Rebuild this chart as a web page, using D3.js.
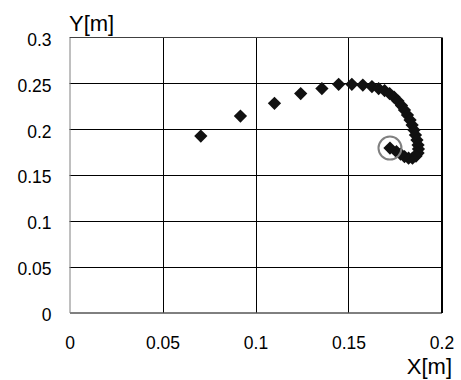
<!DOCTYPE html>
<html>
<head>
<meta charset="utf-8">
<script src="https://cdn.jsdelivr.net/npm/d3@7"></script>
<style>
  html, body { margin: 0; padding: 0; background: #fff; }
  svg { display: block; }
  text { font-family: "Liberation Sans", Arial, sans-serif; fill: #000; }
</style>
</head>
<body>
<svg id="chart" width="461" height="380"></svg>
<script>
// ---- data ----
const xValues = [0.0706, 0.0919, 0.1102, 0.1243, 0.1357, 0.1447, 0.1518, 0.1577, 0.1626,
  0.1662, 0.1694, 0.1721, 0.1745, 0.1766, 0.1785, 0.1801, 0.1817, 0.1831, 0.1842,
  0.1852, 0.1860, 0.1868, 0.1874, 0.1876, 0.1874, 0.1863, 0.1844, 0.1823, 0.1801,
  0.1780, 0.1758, 0.1723];
const yValues = [0.1925, 0.2143, 0.2282, 0.2389, 0.2443, 0.2489, 0.2489, 0.2481, 0.2465,
  0.2443, 0.2421, 0.2389, 0.2350, 0.2307, 0.2258, 0.2208, 0.2154, 0.2099, 0.2045,
  0.1990, 0.1936, 0.1881, 0.1827, 0.1783, 0.1739, 0.1706, 0.1684, 0.1684, 0.1701,
  0.1728, 0.1755, 0.1794];
const xTicks = [0, 0.05, 0.1, 0.15, 0.2];
const yTicks = [0, 0.05, 0.1, 0.15, 0.2, 0.25, 0.3];
const xTickLabels = ["0", "0.05", "0.1", "0.15", "0.2"];
const yTickLabels = ["0", "0.05", "0.1", "0.15", "0.2", "0.25", "0.3"];
const xTitle = "X[m]";
const yTitle = "Y[m]";
const highlightIndex = xValues.length - 1;

const points = xValues.map((x, i) => ({ x, y: yValues[i] }));

// ---- layout ----
const svg = d3.select("#chart");
const plot = { left: 69.5, right: 441.5, top: 37.5, bottom: 312.5 };

const x = d3.scaleLinear().domain([0, 0.2]).range([plot.left, plot.right]);
const y = d3.scaleLinear().domain([0, 0.3]).range([plot.bottom, plot.top]);

// gridlines
svg.append("g").selectAll("line.h")
  .data(yTicks.slice(1, -1))
  .join("line")
  .attr("x1", plot.left).attr("x2", plot.right)
  .attr("y1", d => Math.round(y(d)) + 0.5).attr("y2", d => Math.round(y(d)) + 0.5)
  .attr("stroke", "#000").attr("stroke-width", 1);

svg.append("g").selectAll("line.v")
  .data(xTicks.slice(1, -1))
  .join("line")
  .attr("x1", d => Math.round(x(d)) + 0.5).attr("x2", d => Math.round(x(d)) + 0.5)
  .attr("y1", plot.top).attr("y2", plot.bottom)
  .attr("stroke", "#000").attr("stroke-width", 1);

// frame
svg.append("line").attr("x1", plot.left).attr("x2", plot.right)
  .attr("y1", plot.top).attr("y2", plot.top).attr("stroke", "#404040");
svg.append("line").attr("x1", plot.right + 0.5).attr("x2", plot.right + 0.5)
  .attr("y1", plot.top).attr("y2", plot.bottom + 0.5).attr("stroke", "#000").attr("stroke-width", 2);

// axes
const xAxis = d3.axisBottom(x).tickValues(xTicks).tickFormat((d, i) => xTickLabels[i]).tickSize(0).tickPadding(24);
const yAxis = d3.axisLeft(y).tickValues(yTicks).tickFormat((d, i) => yTickLabels[i]).tickSize(0).tickPadding(18);

const gx = svg.append("g").attr("transform", `translate(0,${plot.bottom})`).call(xAxis);
gx.select(".domain").attr("stroke", "#000");
gx.selectAll("text").style("font-size", "17.5px").attr("fill", "#000");

const gy = svg.append("g").attr("transform", `translate(${plot.left},0)`).call(yAxis);
gy.select(".domain").attr("stroke", "#808080");
gy.selectAll("text").style("font-size", "17.5px").attr("fill", "#000").attr("dy", "0.45em");

// titles
svg.append("text").attr("x", 69).attr("y", 31).style("font-size", "22px").text(yTitle);
svg.append("text").attr("x", 452).attr("y", 374).attr("text-anchor", "end").style("font-size", "22px").text(xTitle);

// markers (diamonds)
const diamond = d3.symbol().type(d3.symbolSquare).size(88);
svg.append("g").selectAll("path")
  .data(points)
  .join("path")
  .attr("d", diamond)
  .attr("transform", d => `translate(${x(d.x)},${y(d.y)}) rotate(45)`)
  .attr("fill", "#111");

// highlight circle
svg.append("circle")
  .attr("cx", x(points[highlightIndex].x))
  .attr("cy", y(points[highlightIndex].y))
  .attr("r", 11.5)
  .attr("fill", "none")
  .attr("stroke", "#808080")
  .attr("stroke-width", 2);
</script>
</body>
</html>
